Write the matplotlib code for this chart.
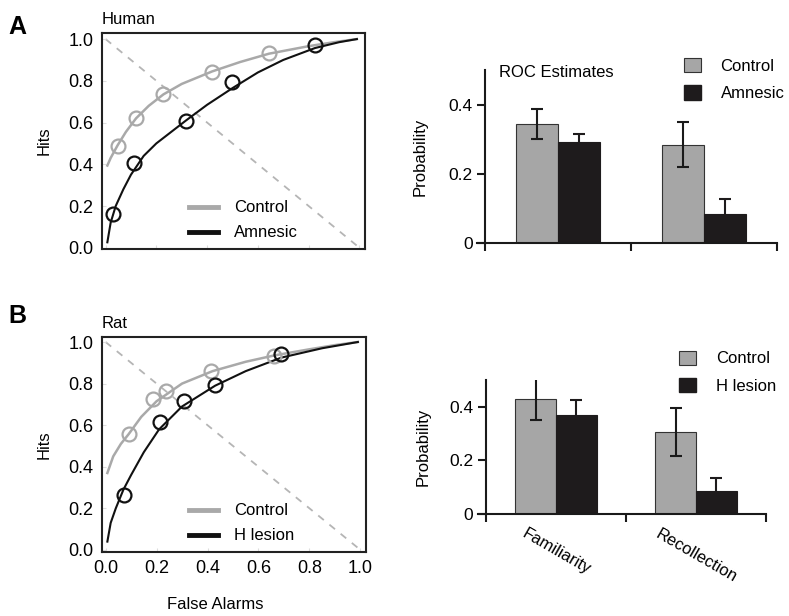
import matplotlib
matplotlib.use("Agg")
import matplotlib.pyplot as plt
from matplotlib.patches import Patch
from matplotlib.lines import Line2D

plt.rcParams['font.family'] = ['Liberation Sans', 'DejaVu Sans']
plt.rcParams['font.size'] = 12

GRAY = '#a9a9a9'
DARK = '#111111'
BAR_GRAY = '#a6a6a6'
BAR_BLACK = '#1e1b1c'

# ---- ROC data, panel A (Human) ----
human_ctrl_fa = [0.047, 0.12, 0.228, 0.42, 0.644]
human_ctrl_hit = [0.486, 0.623, 0.736, 0.843, 0.931]
human_amn_fa = [0.028, 0.112, 0.317, 0.50, 0.825]
human_amn_hit = [0.162, 0.405, 0.607, 0.792, 0.971]

human_ctrl_curve_x = [0.007, 0.02, 0.047, 0.08, 0.12, 0.17, 0.228, 0.3, 0.42, 0.53, 0.644, 0.8, 0.9, 0.99]
human_ctrl_curve_y = [0.394, 0.43, 0.49, 0.555, 0.62, 0.68, 0.735, 0.785, 0.845, 0.89, 0.93, 0.966, 0.985, 1.0]
human_amn_curve_x = [0.007, 0.02, 0.04, 0.07, 0.1, 0.15, 0.2, 0.317, 0.4, 0.5, 0.6, 0.7, 0.825, 0.92, 0.99]
human_amn_curve_y = [0.026, 0.12, 0.2, 0.28, 0.35, 0.44, 0.5, 0.61, 0.685, 0.765, 0.84, 0.9, 0.957, 0.985, 1.0]

# ---- ROC data, panel B (Rat) ----
rat_ctrl_fa = [0.09, 0.186, 0.238, 0.415, 0.66]
rat_ctrl_hit = [0.556, 0.724, 0.764, 0.86, 0.934]
rat_les_fa = [0.073, 0.215, 0.306, 0.431, 0.69]
rat_les_hit = [0.264, 0.617, 0.716, 0.793, 0.942]

rat_ctrl_curve_x = [0.007, 0.03, 0.06, 0.09, 0.14, 0.2, 0.3, 0.42, 0.55, 0.66, 0.8, 0.9, 0.99]
rat_ctrl_curve_y = [0.37, 0.45, 0.51, 0.556, 0.64, 0.715, 0.8, 0.86, 0.905, 0.935, 0.965, 0.985, 1.0]
rat_les_curve_x = [0.007, 0.02, 0.04, 0.07, 0.1, 0.15, 0.21, 0.3, 0.43, 0.55, 0.69, 0.85, 0.99]
rat_les_curve_y = [0.04, 0.13, 0.2, 0.29, 0.36, 0.47, 0.58, 0.69, 0.79, 0.86, 0.925, 0.97, 1.0]

# ---- ROC estimates ----
categories = ['Familiarity', 'Recollection']
human_ctrl_est = [0.343, 0.284]
human_ctrl_err = [0.043, 0.065]
human_amn_est = [0.291, 0.084]
human_amn_err = [0.024, 0.043]
rat_ctrl_est = [0.43, 0.305]
rat_ctrl_err = [0.08, 0.09]
rat_les_est = [0.371, 0.086]
rat_les_err = [0.056, 0.049]

fig = plt.figure(figsize=(7.89, 6.16), dpi=100)


def roc_panel(rect, ylim, title, ctrl_fa, ctrl_hit, g_fa, g_hit, cx, cy, gx, gy,
              group_label, show_x):
    ax = fig.add_axes(rect)
    ax.plot([0, 1], [1, 0], ls=(0, (4, 4)), color='#b5b5b5', lw=1.3, zorder=1)
    ax.plot(cx, cy, color=GRAY, lw=1.8, zorder=2)
    ax.plot(gx, gy, color=DARK, lw=1.5, zorder=3)
    ax.plot(ctrl_fa, ctrl_hit, 'o', mfc='none', mec=GRAY, mew=1.6, ms=10, zorder=4)
    ax.plot(g_fa, g_hit, 'o', mfc='none', mec=DARK, mew=1.6, ms=10, zorder=5)
    ax.set_xlim(-0.014, 1.022)
    ax.set_ylim(*ylim)
    ax.set_xticks([0, 0.2, 0.4, 0.6, 0.8, 1.0])
    ax.set_yticks([0, 0.2, 0.4, 0.6, 0.8, 1.0])
    ax.tick_params(direction='in', length=3, color='#dddddd', labelsize=13, pad=6)
    if not show_x:
        ax.tick_params(axis='x', labelbottom=False)
    else:
        ax.set_xlabel('False Alarms', fontsize=12)
        ax.xaxis.set_label_coords(0.43, -0.21)
    ax.set_ylabel('Hits', fontsize=12)
    ax.yaxis.set_label_coords(-0.19, 0.5)
    for s in ax.spines.values():
        s.set_linewidth(1.5)
        s.set_color('#222222')
    ax.text(0.0, 1.03, title, transform=ax.transAxes, fontsize=12, va='bottom', ha='left')
    handles = [Line2D([], [], color=GRAY, lw=3.5), Line2D([], [], color=DARK, lw=3.5)]
    ax.legend(handles, ['Control', group_label], loc='lower left',
              bbox_to_anchor=(0.33, 0.04), frameon=False, fontsize=12,
              handlelength=1.75, handletextpad=0.95, labelspacing=0.6,
              borderpad=0, borderaxespad=0)
    return ax


def bar_panel(rect, xmin, ctrl, ctrl_err, grp, grp_err, group_label, legend_anchor,
              show_labels, extra_text=None):
    ax = fig.add_axes(rect)
    w = 0.29
    centers = [0.5, 1.5]
    xc = [c - w / 2 for c in centers]
    xg = [c + w / 2 for c in centers]
    ax.bar(xc, ctrl, width=w, color=BAR_GRAY, edgecolor='#333333', lw=0.8,
           label='Control', zorder=2)
    ax.bar(xg, grp, width=w, color=BAR_BLACK, edgecolor=BAR_BLACK, lw=0.8,
           label=group_label, zorder=2)
    ax.errorbar(xc, ctrl, yerr=ctrl_err, fmt='none', ecolor='#1a1a1a', elinewidth=1.5,
                capsize=4, capthick=1.5, zorder=3)
    # same colour as the bar, so the lower half disappears inside it
    ax.errorbar(xg, grp, yerr=grp_err, fmt='none', ecolor=BAR_BLACK,
                elinewidth=1.5, capsize=4, capthick=1.5, zorder=3)
    ax.set_xlim(xmin, 2.0)
    ax.set_ylim(0, 0.5)
    ax.spines['left'].set_position(('data', 0))
    ax.spines['top'].set_visible(False)
    ax.spines['right'].set_visible(False)
    for s in ('left', 'bottom'):
        ax.spines[s].set_linewidth(1.5)
        ax.spines[s].set_color('#1a1a1a')
    ax.set_yticks([0, 0.2, 0.4])
    ax.set_yticklabels(['0', '0.2', '0.4'])
    ax.set_xticks([0, 1, 2])
    ax.set_xticklabels([])
    ax.tick_params(which='major', direction='out', length=6, width=1.5,
                   color='#1a1a1a', labelsize=12.5, pad=3)
    if show_labels:
        ax.set_xticks(centers, categories, minor=True)
        ax.tick_params(which='minor', length=0, pad=9, labelsize=12)
        for lab in ax.get_xticklabels(minor=True):
            lab.set_rotation(-30)
            lab.set_ha('center')
    ax.set_ylabel('Probability', fontsize=12)
    handles = [Patch(facecolor=BAR_GRAY, edgecolor='#333333', lw=0.8),
               Patch(facecolor=BAR_BLACK, edgecolor=BAR_BLACK)]
    ax.legend(handles, ['Control', group_label], loc='upper left',
              bbox_to_anchor=legend_anchor, frameon=False, fontsize=12,
              handlelength=1.0, handleheight=0.95, handletextpad=1.2,
              labelspacing=0.7, borderpad=0, borderaxespad=0)
    if extra_text:
        ax.text(0.073, 0.983, extra_text, transform=ax.transAxes, fontsize=12,
                va='center', ha='left')
    return ax


axA = roc_panel([0.1293, 0.5958, 0.3333, 0.3506], (-0.006, 1.029), 'Human',
                human_ctrl_fa, human_ctrl_hit, human_amn_fa, human_amn_hit,
                human_ctrl_curve_x, human_ctrl_curve_y, human_amn_curve_x, human_amn_curve_y,
                'Amnesic', False)
axB = roc_panel([0.1293, 0.1039, 0.3346, 0.349], (-0.01, 1.024), 'Rat',
                rat_ctrl_fa, rat_ctrl_hit, rat_les_fa, rat_les_hit,
                rat_ctrl_curve_x, rat_ctrl_curve_y, rat_les_curve_x, rat_les_curve_y,
                'H lesion', True)

bA = bar_panel([0.6046, 0.6055, 0.380, 0.281], -0.055, human_ctrl_est, human_ctrl_err,
               human_amn_est, human_amn_err, 'Amnesic', (0.69, 1.07), False,
               extra_text='ROC Estimates')
bB = bar_panel([0.6058, 0.1656, 0.365, 0.2175], -0.057, rat_ctrl_est, rat_ctrl_err,
               rat_les_est, rat_les_err, 'H lesion', (0.698, 1.22), True)

bA.yaxis.set_label_coords(-0.165, 0.5)
bB.yaxis.set_label_coords(-0.165, 0.5)

fig.text(8 / 789, 1 - 27 / 616, 'A', fontsize=18, fontweight='bold', va='center', ha='left')
fig.text(8 / 789, 1 - 316 / 616, 'B', fontsize=18, fontweight='bold', va='center', ha='left')

fig.savefig('out.png', dpi=100)
